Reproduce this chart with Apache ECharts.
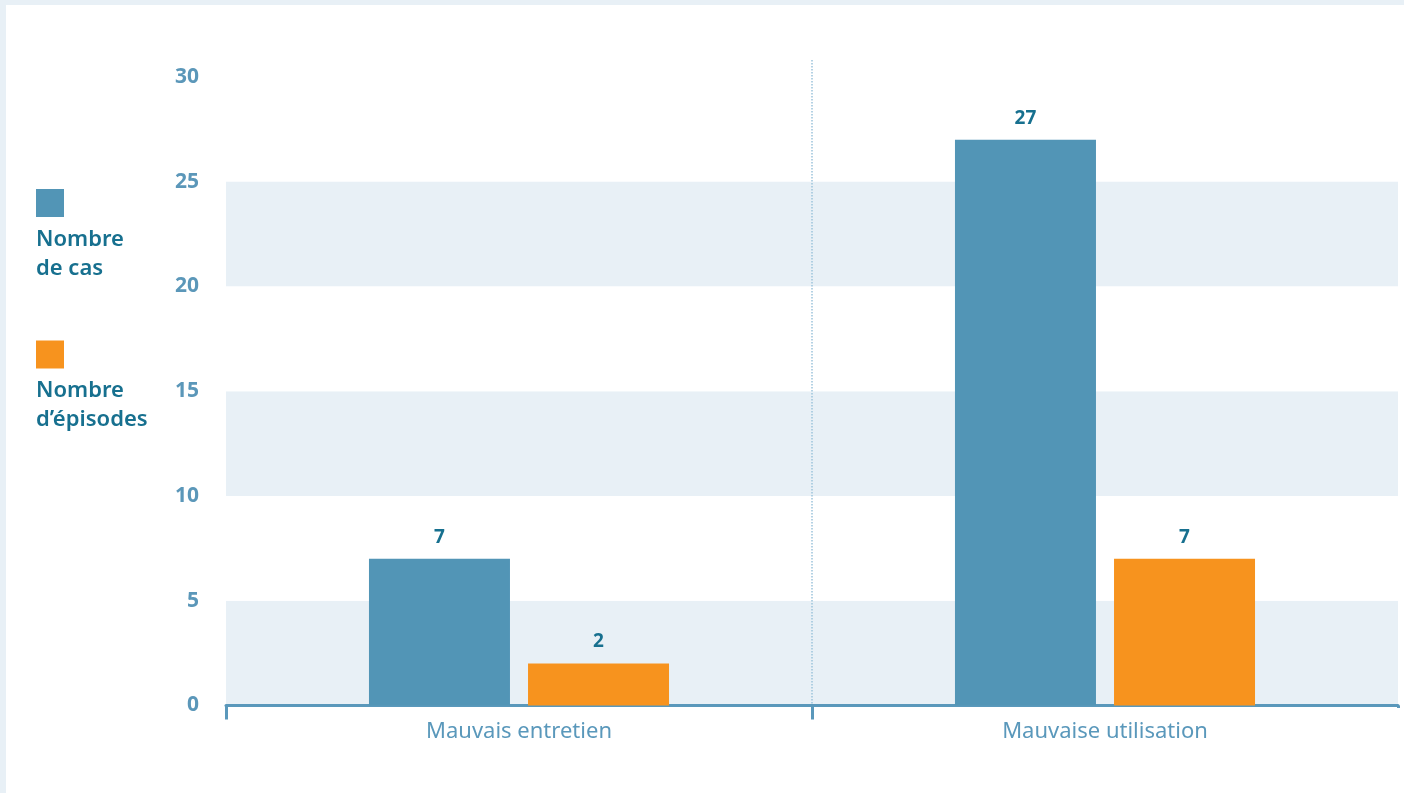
<!DOCTYPE html>
<html><head><meta charset="utf-8">
<script src="https://cdn.jsdelivr.net/npm/echarts@6/dist/echarts.min.js"></script>
<style>
html,body{margin:0;padding:0;background:#e8f0f6;}
#wrap{position:absolute;left:0;top:0;width:1404px;height:793px;box-sizing:border-box;border-left:6px solid #e8f0f6;border-top:5px solid #e8f0f6;background:#fff;}
#chart{width:1398px;height:788px;}
</style></head>
<body><div id="wrap"><div id="chart"></div></div>
<script>
const categories = ['Mauvais entretien', 'Mauvaise utilisation'];
const seriesNames = ['Nombre de cas', 'Nombre d\u2019épisodes'];
const nombreDeCas = [7, 27];
const nombreEpisodes = [2, 7];
const legendLines = { 'Nombre de cas': ['Nombre', 'de cas'], 'Nombre d\u2019épisodes': ['Nombre', 'd\u2019épisodes'] };

const FONT = '"Noto Sans", "Open Sans", sans-serif';
const BAND = '#e8f0f6';
const chart = echarts.init(document.getElementById('chart'), null, { renderer: 'canvas' });
const valueLabel = {
  show: true, position: 'top', distance: 12,
  color: '#17708f', fontWeight: 'bold', fontSize: 19, fontFamily: FONT
};
chart.setOption({
  animation: false,
  backgroundColor: '#fff',
  textStyle: { fontFamily: FONT },
  legend: {
    orient: 'vertical', left: 20, top: 179, itemGap: 61,
    selectedMode: false, icon: 'none', itemWidth: 0, itemHeight: 0,
    data: seriesNames,
    formatter: function (name) {
      const key = name === seriesNames[0] ? 'b0' : 'b1';
      return '{' + key + '|}\n{g| }\n{t|' + legendLines[name].join('}\n{t|') + '}';
    },
    textStyle: {
      padding: 0,
      rich: {
        b0: { width: 28, height: 28, backgroundColor: '#5295b6' },
        b1: { width: 28, height: 28, backgroundColor: '#f7931e' },
        g: { height: 8, lineHeight: 8, fontSize: 2 },
        t: { fontSize: 22, fontWeight: 600, color: '#17708f', lineHeight: 29, fontFamily: FONT }
      }
    }
  },
  grid: { left: 220, right: 6, top: 55, bottom: 87.5, containLabel: false },
  xAxis: {
    type: 'category', data: categories,
    axisLine: { lineStyle: { color: '#5a98bb', width: 3 } },
    axisTick: { show: true, length: 14, lineStyle: { color: '#5a98bb', width: 3 } },
    axisLabel: { color: '#5a98bb', fontSize: 22, margin: 15, fontFamily: FONT },
    splitLine: { show: true, showMinLine: false, showMaxLine: false, lineStyle: { color: '#9cc3db', type: 'dotted', width: 1.5 } }
  },
  yAxis: {
    type: 'value', min: 0, max: 30.8, interval: 5,
    axisLine: { show: false }, axisTick: { show: false },
    splitLine: { show: false },
    splitArea: { show: true, areaStyle: { color: [BAND, '#fff', BAND, '#fff', BAND, '#fff', '#fff'] } },
    axisLabel: { color: '#5b97b9', fontSize: 21, fontWeight: 'bold', margin: 27, showMaxLabel: false, fontFamily: FONT }
  },
  series: [
    { name: seriesNames[0], type: 'bar', data: nombreDeCas, barWidth: 141, barGap: '12.8%',
      itemStyle: { color: '#5295b6' }, label: valueLabel },
    { name: seriesNames[1], type: 'bar', data: nombreEpisodes, barWidth: 141,
      itemStyle: { color: '#f7931e' }, label: valueLabel }
  ],
  graphic: [
    { type: 'rect', shape: { x: 1388, y: 703, width: 10, height: 20 }, style: { fill: '#fff' }, z: 100 }
  ]
});
</script></body></html>
